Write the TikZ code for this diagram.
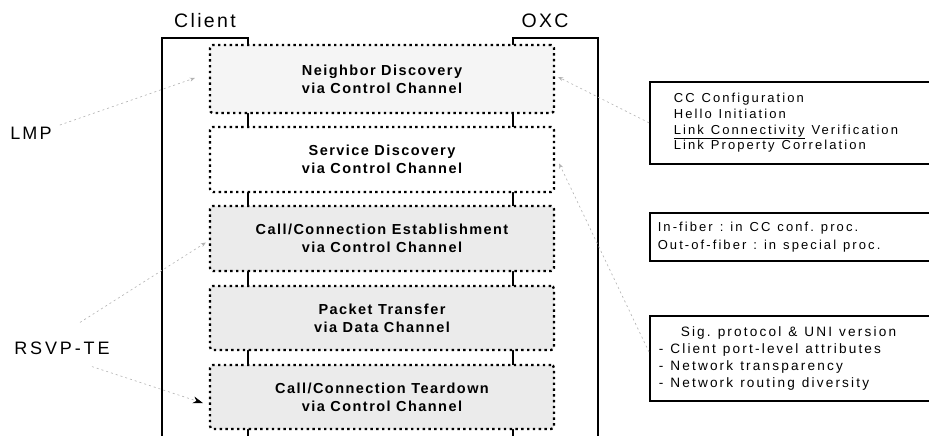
\documentclass[tikz,border=0pt]{standalone}
\usepackage{fontspec}
\setmainfont{Liberation Sans}
\newfontfamily\labfont[LetterSpace=12]{Liberation Sans}
\newfontfamily\rsfont[LetterSpace=16]{Liberation Sans}
\newfontfamily\boxfont[LetterSpace=10]{Liberation Sans}
\newfontfamily\notefont[LetterSpace=16]{Liberation Sans}
\newcommand\boxsel{\boxfont\bfseries\fontsize{14.5}{18}\selectfont}
\newcommand\notesize[2]{\notefont\fontsize{#1}{#2}\selectfont}
\newcommand\ws{\hspace{7pt}}
\usetikzlibrary{arrows.meta}
\tikzset{
  dbox/.style={draw, line width=2.3pt, dash pattern=on 2.4pt off 3.4pt, rounded corners=3pt,
    minimum width=344pt, align=center, inner sep=0pt, font=\boxsel},
  life/.style={line width=2.6pt},
  tbox/.style={draw, line width=1.6pt, anchor=north west, align=left, inner ysep=0pt},
  lab/.style={font=\labfont\fontsize{18}{20}\selectfont, inner sep=0pt},
  hint/.style={gray!60, line width=0.6pt, dash pattern=on 2pt off 3pt},
}
\begin{document}
\begin{tikzpicture}[x=1pt,y=-1pt]
\useasboundingbox[fill=white] (0,0) rectangle (929,436);
% brackets and lifelines
\coordinate (cl) at (162,38);
\coordinate (clb) at (162,436);
\coordinate (ct) at (248,38);
\coordinate (cb) at (248,436);
\coordinate (ot) at (513,38);
\coordinate (ob) at (513,436);
\coordinate (or) at (598,38);
\coordinate (orb) at (598,436);
\draw[life] (clb) -- (cl) -- (ct) -- (cb);
\draw[life] (ob) -- (ot) -- (or) -- (orb);
% labels
\node[lab, font=\labfont\fontsize{19.5}{22}\selectfont] (client) at (205,21) {Client};
\node[lab, font=\labfont\fontsize{19.5}{22}\selectfont] (oxc) at (545,21) {OXC};
\node[lab] (lmp) at (31,133) {LMP};
\node[lab, font=\rsfont\fontsize{18}{20}\selectfont] (rsvp) at (62,348) {RSVP-TE};
% dotted boxes
\node[dbox, fill=gray!8, minimum height=68pt] (nd) at (382,79) {Neighbor Discovery\\via Control Channel};
\node[dbox, fill=white, minimum height=65pt] (sd) at (382,159.5) {Service Discovery\\via Control Channel};
\node[dbox, fill=gray!16, minimum height=65pt] (ce) at (382,238.5) {Call/Connection Establishment\\via Control Channel};
\node[dbox, fill=gray!16, minimum height=64pt] (pt) at (382,318) {Packet Transfer\\via Data Channel};
\node[dbox, fill=gray!16, minimum height=64pt] (ct5) at (382,397) {Call/Connection Teardown\\via Control Channel};
% note boxes
\node[tbox, minimum width=284pt, minimum height=82pt, inner xsep=24pt, text width=236pt,
  font=\notesize{13}{15.7}] (cfg) at (649,81)
  {CC\ws Configuration\\Hello\ws Initiation\\\underline{Link\ws Connectivity}\ws Verification\\Link\ws Property\ws Correlation};
\node[tbox, minimum width=284pt, minimum height=48pt, inner xsep=8pt, text width=268pt,
  font=\notesize{13}{18}] (fib) at (649,212)
  {In-fiber\ws:\ws in\ws CC\ws conf.\ws proc.\\Out-of-fiber\ws:\ws in\ws special\ws proc.};
\node[tbox, minimum width=284pt, minimum height=85pt, inner xsep=9pt, text width=266pt,
  font=\notesize{13.6}{17}] (sig) at (649,315)
  {\hspace*{22pt}Sig.\ws protocol\ws\&\ws UNI\ws version\\-\ws Client\ws port-level\ws attributes\\-\ws Network\ws transparency\\-\ws Network\ws routing\ws diversity};
% hint arrows
\draw[hint, -{Stealth[length=5pt,width=4pt]}] (lmp.east) ++(8,-8) -- ([xshift=-14pt,yshift=1pt]nd.west);
\draw[hint, -{Stealth[length=5pt,width=4pt]}] (rsvp.north) ++(18,-19) -- ([xshift=-3pt,yshift=-4pt]ce.west);
\draw[hint, -{Stealth[length=10pt,width=7pt,color=black]}] (rsvp.south) ++(30,12) -- ([xshift=-6pt,yshift=-6pt]ct5.west);
\draw[hint, -{Stealth[length=5pt,width=4pt]}] (cfg.west) -- ([xshift=3pt,yshift=2pt]nd.east);
\draw[hint, -{Stealth[length=5pt,width=4pt]}] ([yshift=-37pt]sig.north west) -- ([xshift=4pt,yshift=-4pt]sd.east);
\end{tikzpicture}
\end{document}
